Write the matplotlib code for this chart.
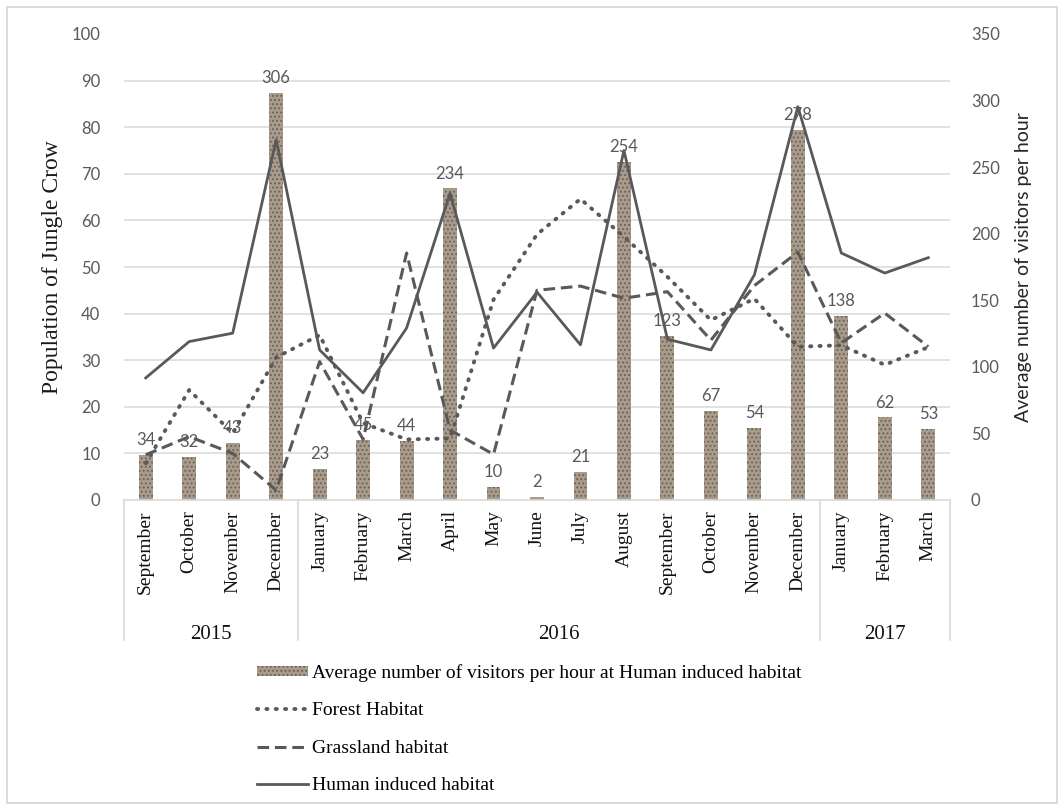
import numpy as np
import matplotlib.pyplot as plt
import matplotlib.transforms as mtransforms
from matplotlib.patches import Patch, Rectangle
from matplotlib.lines import Line2D

months = ["September", "October", "November", "December",
          "January", "February", "March", "April", "May", "June", "July",
          "August", "September", "October", "November", "December",
          "January", "February", "March"]
years = ["2015", "2016", "2017"]
year_spans = [4, 12, 3]

# right axis: average visitors per hour (bars)
visitors = [34, 32, 43, 306, 23, 45, 44, 234, 10, 2, 21, 254, 123, 67, 54, 278, 138, 62, 53]
# left axis: population of Jungle Crow
forest = [7.9, 23.6, 14.3, 30.6, 35.4, 16.5, 13.0, 13.2, 43.0, 57.0, 64.6, 56.5,
          47.9, 38.6, 43.2, 32.9, 33.2, 29.0, 32.8]
grassland = [9.7, 13.6, 10.0, 2.1, 29.7, 13.0, 53.0, 15.0, 9.8, 45.0, 45.9, 43.3,
             44.7, 34.3, 46.0, 53.2, 33.7, 40.1, 32.9]
human = [26.2, 34.0, 35.8, 77.3, 32.2, 23.0, 36.9, 65.8, 32.6, 44.6, 33.3, 75.0,
         34.5, 32.2, 48.3, 84.4, 53.0, 48.7, 52.0]

GRID = '#d9d9d9'
TICK = '#595959'
LINE = '#595959'
BAR = '#a89b8c'
SERIF = 'Liberation Serif'
SANS = 'Lato'
DOT = (0, (0.3, 2.1))
DASH = (0, (3.8, 1.9))

plt.rcParams['hatch.linewidth'] = 0.8

fig = plt.figure(figsize=(10.64, 8.08), dpi=100)
fig.patches.append(Rectangle((7 / 1064, 5 / 808), 1050 / 1064, 796 / 808,
                             transform=fig.transFigure, fill=False,
                             edgecolor='#d4d4d4', lw=1.2))

ax = fig.add_axes([124 / 1064, 1 - 500 / 808, 826 / 1064, 466 / 808])
ax2 = ax.twinx()

x = np.arange(len(months))

# bars on the secondary (right) scale
bars = ax.bar(x, visitors, width=0.32, color=BAR, hatch='....',
              edgecolor='#6a5f54', lw=0, zorder=2)
ax.bar_label(bars, padding=5, fontsize=12, color=TICK, fontfamily=SANS)
ax.set_ylim(0, 350)
ax.set_xlim(-0.5, len(months) - 0.5)
ax.set_yticks(np.arange(0, 351, 50))
ax.set_yticks(np.arange(0, 351, 35), minor=True)
ax.yaxis.grid(True, which='minor', color=GRID, lw=1.1)
ax.set_axisbelow(True)
ax.yaxis.tick_right()
ax.yaxis.set_label_position('right')
ax.tick_params(axis='y', which='both', length=0, pad=15, labelsize=12, labelcolor=TICK)
for t in ax.get_yticklabels():
    t.set_fontfamily(SANS)
ax.set_ylabel("Average number of visitors per hour", fontfamily=SANS, fontsize=14,
              color='#262626', labelpad=11)
ax.set_xticks([])

# lines on the primary (left) scale
ax2.plot(x, forest, color=LINE, lw=2.8, linestyle=DOT, dash_capstyle='round')
ax2.plot(x, grassland, color=LINE, lw=2.2, linestyle=DASH)
ax2.plot(x, human, color=LINE, lw=2.0)
ax2.set_ylim(0, 100)
ax2.set_yticks(np.arange(0, 101, 10))
ax2.yaxis.tick_left()
ax2.yaxis.set_label_position('left')
ax2.tick_params(axis='y', length=0, pad=17, labelsize=12, labelcolor=TICK)
for t in ax2.get_yticklabels():
    t.set_fontfamily(SANS)
ax2.set_ylabel("Population of Jungle Crow", fontfamily=SERIF, fontsize=17,
               color='#1a1a1a', labelpad=6)

for a in (ax, ax2):
    for s in a.spines.values():
        s.set_visible(False)

# multi-level category axis
trans = mtransforms.blended_transform_factory(ax.transData, ax.transAxes)
ax.plot([-0.5, len(months) - 0.5], [0, 0], transform=trans, color=GRID,
        lw=1.2, clip_on=False)
for i, m in enumerate(months):
    ax.text(i, -0.022, m, transform=trans, rotation=90, ha='center', va='top',
            fontfamily=SERIF, fontsize=14, color='#111111')
edges = np.concatenate([[0], np.cumsum(year_spans)]) - 0.5
for xb in edges:
    ax.plot([xb, xb], [0, -0.30], transform=trans, color=GRID, lw=1.2,
            clip_on=False)
for yr, a, b in zip(years, edges[:-1], edges[1:]):
    ax.text((a + b) / 2, -0.288, yr, transform=trans, ha='center', va='center',
            fontfamily=SERIF, fontsize=15, color='#111111')

handles = [
    Patch(facecolor=BAR, hatch='....', edgecolor='#6a5f54', lw=0),
    Line2D([], [], color=LINE, lw=2.8, linestyle=DOT, dash_capstyle='round'),
    Line2D([], [], color=LINE, lw=2.2, linestyle=DASH),
    Line2D([], [], color=LINE, lw=2.0),
]
labels = ["Average number of visitors per hour at Human induced habitat",
          "Forest Habitat", "Grassland habitat", "Human induced habitat"]
fig.legend(handles, labels, loc='upper left', bbox_to_anchor=(257 / 1064, 1 - 664 / 808),
           frameon=False, prop={'family': SERIF, 'size': 14}, handlelength=2.6,
           handleheight=0.45, handletextpad=0.25, labelspacing=1.05, borderpad=0,
           borderaxespad=0)

fig.savefig('out.png', dpi=100)
